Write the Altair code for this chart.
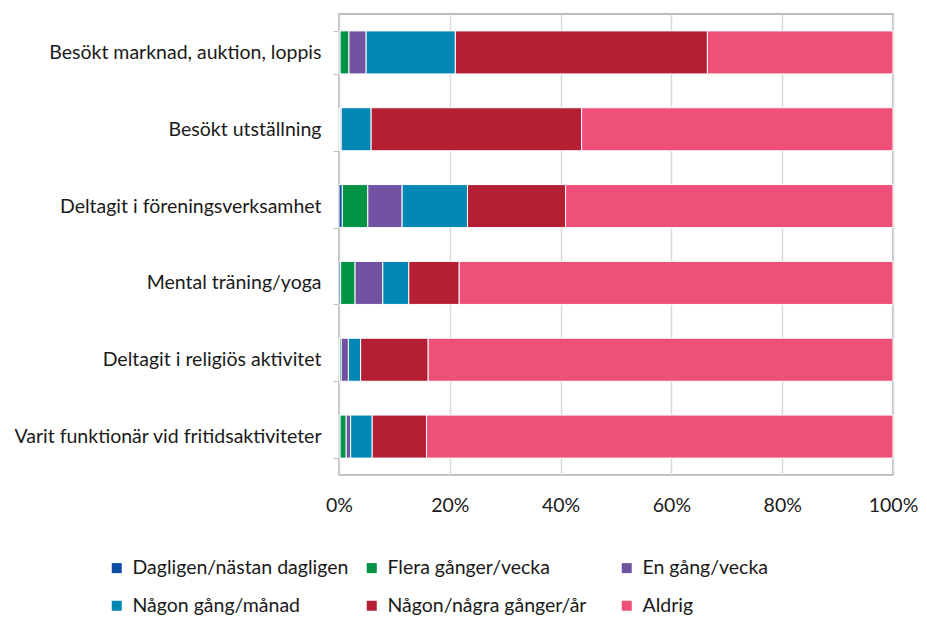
import altair as alt
import pandas as pd

categories = [
    "Besökt marknad, auktion, loppis",
    "Besökt utställning",
    "Deltagit i föreningsverksamhet",
    "Mental träning/yoga",
    "Deltagit i religiös aktivitet",
    "Varit funktionär vid fritidsaktiviteter",
]
series = [
    "Dagligen/nästan dagligen",
    "Flera gånger/vecka",
    "En gång/vecka",
    "Någon gång/månad",
    "Någon/några gånger/år",
    "Aldrig",
]
colors = ["#0E4DA4", "#009245", "#7151A1", "#0087B3", "#B51F34", "#EF5077"]

dagligen = [0.2, 0.1, 0.6, 0.3, 0.1, 0.2]
flera = [1.6, 0.1, 4.6, 2.6, 0.3, 1.1]
en_gang = [3.1, 0.2, 6.2, 5.0, 1.3, 0.8]
manad = [16.1, 5.4, 11.8, 4.7, 2.2, 3.9]
ar = [45.5, 38.0, 17.7, 9.1, 12.2, 9.8]
aldrig = [33.5, 56.2, 59.1, 78.3, 83.9, 84.2]

values = [dagligen, flera, en_gang, manad, ar, aldrig]
rows = []
for si, (s, vals) in enumerate(zip(series, values)):
    for c, v in zip(categories, vals):
        rows.append({"cat": c, "serie": s, "order": si, "value": v / 100.0})
df = pd.DataFrame(rows)

FONT = "Lato"
FS = 19.5
TXT = "#1a1a1a"

chart = (
    alt.Chart(df)
    .mark_bar(stroke="white", strokeWidth=1)
    .encode(
        y=alt.Y(
            "cat:N",
            sort=categories,
            title=None,
            scale=alt.Scale(paddingInner=0.44, paddingOuter=0.22),
            axis=alt.Axis(
                tickBand="extent",
                tickSize=6,
                tickColor="#bfbfbf",
                domainColor="#d0d0d0",
                labelFontSize=FS,
                labelFont=FONT,
                labelColor=TXT,
                labelPadding=12,
                labelLimit=400,
                grid=False,
            ),
        ),
        x=alt.X(
            "value:Q",
            stack="zero",
            title=None,
            scale=alt.Scale(domain=[0, 1], nice=False),
            axis=alt.Axis(
                format=".0%",
                values=[0, 0.2, 0.4, 0.6, 0.8, 1.0],
                ticks=False,
                grid=True,
                gridColor="#d9d9d9",
                gridWidth=1.5,
                domainColor="#c8c8c8",
                labelFontSize=FS,
                labelFont=FONT,
                labelColor=TXT,
                labelPadding=21,
                labelFlush=False,
                labelOverlap=False,
            ),
        ),
        color=alt.Color(
            "serie:N",
            sort=series,
            scale=alt.Scale(domain=series, range=colors),
            legend=alt.Legend(
                title=None,
                orient="none",
                direction="horizontal",
                legendX=-232,
                legendY=544,
                columns=3,
                gridAlign="all",
                columnPadding=13,
                rowPadding=17,
                symbolType="square",
                symbolSize=100,
                symbolStrokeWidth=0,
                labelFontSize=FS,
                labelFont=FONT,
                labelColor=TXT,
                labelLimit=400,
                labelOffset=6,
            ),
        ),
        order=alt.Order("order:Q"),
    )
    .properties(
        width=554,
        height=461,
        autosize=alt.AutoSizeParams(type="none"),
        padding={"left": 331, "top": 6, "right": 26, "bottom": 142},
    )
    .configure_view(stroke="#a6a6a6", strokeWidth=1.5)
)

chart.save("out.html", embed_options={"renderer": "svg", "actions": False})
